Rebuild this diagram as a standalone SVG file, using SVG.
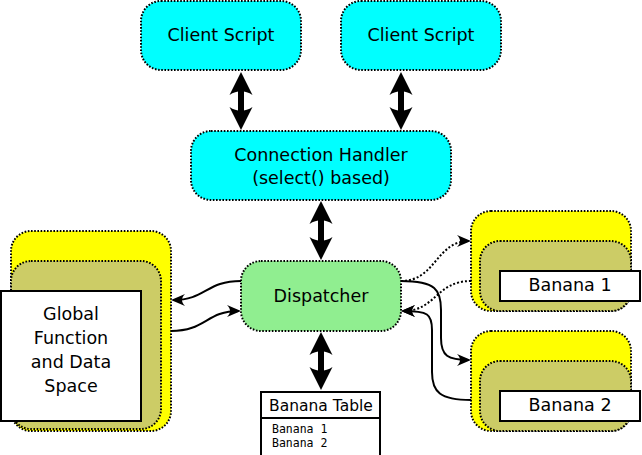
<svg xmlns="http://www.w3.org/2000/svg" width="642" height="455" viewBox="0 0 642 455">
<style>
.box{stroke:#000;stroke-width:2;stroke-dasharray:1.6,1.6}
.cyan{fill:#00ffff}
.green{fill:#90ee90}
.yellow{fill:#ffff00}
.olive{fill:#cccc66}
.white{fill:#fff;stroke:#000;stroke-width:2}
.lbl{font-family:"DejaVu Sans",sans-serif;font-size:17.5px;text-anchor:middle;fill:#000}
.mono{font-family:"DejaVu Sans Mono",monospace;font-size:11.5px;fill:#000}
.thick{fill:none;stroke:#000;stroke-width:6;marker-start:url(#big);marker-end:url(#big)}
.thin{fill:none;stroke:#000;stroke-width:2;marker-end:url(#small)}
.dot{stroke-dasharray:2,2}
</style>
<defs>
<marker id="big" markerUnits="userSpaceOnUse" orient="auto-start-reverse" refX="0" refY="0" markerWidth="40" markerHeight="40" overflow="visible">
<path d="M15,0 L-8,-11.5 C-3,-4 -3,4 -8,11.5 Z" fill="#000"/>
</marker>
<marker id="small" markerUnits="userSpaceOnUse" orient="auto" refX="0" refY="0" markerWidth="30" markerHeight="30" overflow="visible">
<path d="M2,0 L-12,-6 C-8,-2 -8,2 -12,6 Z" fill="#000"/>
</marker>
</defs>

<g id="client1">
<rect class="box cyan" x="141" y="1" width="160" height="69" rx="20"/>
<text class="lbl" x="221" y="41">Client Script</text>
</g>
<g id="client2">
<rect class="box cyan" x="341" y="1" width="160" height="69" rx="20"/>
<text class="lbl" x="421" y="41">Client Script</text>
</g>
<g id="connhandler">
<rect class="box cyan" x="191" y="131" width="260" height="69" rx="20"/>
<text class="lbl" x="321" y="161">Connection Handler</text>
<text class="lbl" x="321" y="184">(select() based)</text>
</g>
<g id="dispatcher">
<rect class="box green" x="241" y="261" width="160" height="70" rx="20"/>
<text class="lbl" x="321" y="302">Dispatcher</text>
</g>
<g id="global">
<rect class="box yellow" x="11" y="231" width="160" height="200" rx="20"/>
<rect class="box olive" x="11" y="261" width="150" height="168" rx="20"/>
<rect class="white" x="1" y="291" width="140" height="130"/>
<text class="lbl" x="71" y="320">Global</text>
<text class="lbl" x="71" y="344">Function</text>
<text class="lbl" x="71" y="368">and Data</text>
<text class="lbl" x="71" y="392">Space</text>
</g>
<g id="banana1">
<rect class="box yellow" x="471" y="211" width="160" height="100" rx="20"/>
<rect class="box olive" x="480" y="241" width="151" height="70" rx="20"/>
<rect class="white" x="500" y="271" width="140" height="30"/>
<text class="lbl" x="570" y="291">Banana 1</text>
</g>
<g id="banana2">
<rect class="box yellow" x="471" y="331" width="160" height="100" rx="20"/>
<rect class="box olive" x="480" y="361" width="151" height="70" rx="20"/>
<rect class="white" x="500" y="391" width="140" height="30"/>
<text class="lbl" x="570" y="411">Banana 2</text>
</g>
<g id="bananatable">
<rect class="white" x="261" y="392" width="119" height="66"/>
<line x1="261" y1="418" x2="380" y2="418" stroke="#000" stroke-width="2"/>
<text class="lbl" x="321" y="411" style="font-size:15.5px">Banana Table</text>
<text class="mono" x="272" y="433">Banana 1</text>
<text class="mono" x="272" y="447">Banana 2</text>
</g>

<g id="connectors">
<path class="thick" d="M241,87 L241,115"/>
<path class="thick" d="M401,87 L401,115"/>
<path class="thick" d="M321,216 L321,245"/>
<path class="thick" d="M321,347 L321,375"/>
<path class="thin" d="M241,281 C206,281 206,300 173,300"/>
<path class="thin" d="M171,331 C206,331 206,311 239,311"/>
<path class="thin dot" d="M401,281 C436,281 436,241 469,241"/>
<path class="thin dot" d="M471,281 C436,281 436,311 403,311"/>
<path class="thin" d="M401,281 C436,281 441,290 441,310 L441,338 C441,356 448,360 469,360"/>
<path class="thin" d="M471,400 C440,400 432,392 432,372 L432,330 C432,314 428,311 403,311"/>
</g>
</svg>
